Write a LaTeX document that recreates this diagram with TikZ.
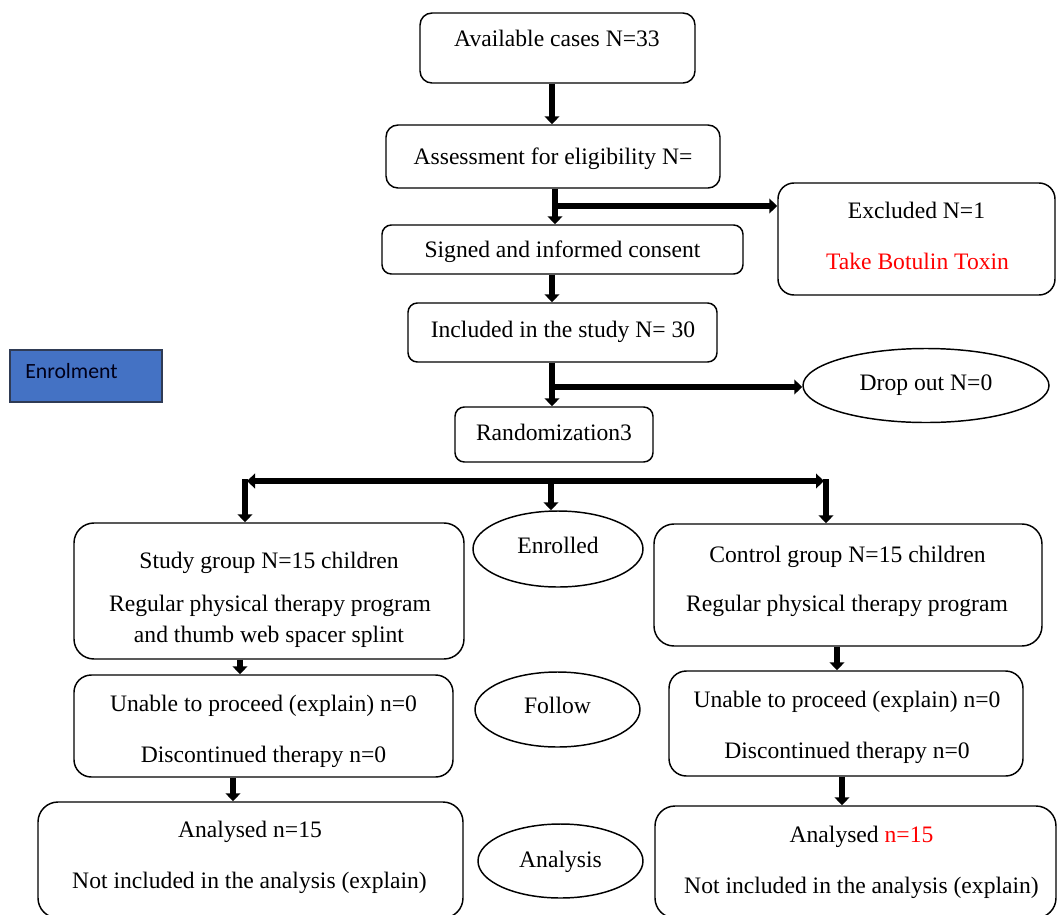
\documentclass[tikz,border=0pt]{standalone}
\usepackage{fontspec}
\setmainfont{Liberation Serif}
\newfontfamily\calibfont{Carlito}
\usetikzlibrary{arrows.meta,shapes.geometric}
\definecolor{enrblue}{HTML}{4472C4}
\definecolor{enrline}{HTML}{2F3B55}
\definecolor{txtred}{HTML}{FF0000}
\begin{document}
\begin{tikzpicture}[x=0.75pt,y=-0.75pt,
  sz/.style 2 args={minimum width=#1*0.75pt, minimum height=#2*0.75pt},
  rbox/.style={draw, line width=1.1pt, rounded corners=#1, inner sep=0pt},
  rbox/.default=9pt,
  ell/.style={draw, ellipse, line width=1.1pt, inner sep=0pt},
  txt/.style={anchor=base, inner sep=0pt, font=\fontsize{17.7}{21}\selectfont},
  arr/.style={line width=4pt, -{Triangle[width=11pt,length=6pt]}}]
\clip (0,0) rectangle (1058,915);

% boxes
\node[rbox, sz={275}{70}] (avail) at (557.5,48) {};
\node[rbox, sz={334}{63}] (assess) at (553,156.5) {};
\node[rbox=12pt, sz={277}{112}] (excl) at (916.5,239) {};
\node[rbox=7pt, sz={361}{49}] (signed) at (562.5,249.5) {};
\node[rbox=7pt, sz={309}{59}] (incl) at (562.5,332.5) {};
\node[ell, sz={246}{74}] (drop) at (926,385.5) {};
\node[rbox=7pt, sz={198}{55}] (rand) at (554,434.5) {};
\node[draw=enrline, fill=enrblue, line width=1pt, inner sep=0pt, sz={152}{52}] (enrol) at (86,376) {};

\node[rbox=15pt, sz={390}{136}] (study) at (269,591) {};
\node[ell, sz={170}{76}] (enr) at (558,549) {};
\node[rbox=15pt, sz={388}{122}] (control) at (848,585) {};

\node[rbox=13pt, sz={379}{102}] (unabL) at (263.5,726) {};
\node[ell, sz={165}{75}] (follow) at (557.5,709.5) {};
\node[rbox=13pt, sz={354}{105}] (unabR) at (846,723.5) {};

\node[rbox=15pt, sz={425}{116}] (analL) at (250.5,860) {};
\node[ell, sz={165}{74}] (analysis) at (560.5,861) {};
\node[rbox=15pt, sz={401}{112}] (analR) at (855.5,862) {};

% texts
\node[txt] (t1) at (557,46) {Available cases N=33};
\node[txt] (t2) at (553,164) {Assessment for eligibility N=};
\node[txt] (t3) at (916.5,218) {Excluded N=1};
\node[txt, text=txtred] (t4) at (917.5,269) {Take Botulin Toxin};
\node[txt] (t5) at (562.5,257) {Signed and informed consent};
\node[txt] (t6) at (563,337) {Included in the study N= 30};
\node[txt] (t7) at (926,390) {Drop out N=0};
\node[txt] (t8) at (554,440) {Randomization3};
\node[anchor=base west, inner sep=0pt, font=\calibfont\fontsize{16.3}{19}\selectfont, text=black!90!blue] (t9) at (25,378) {Enrolment};

\node[txt] (t10) at (269,568) {Study group N=15 children};
\node[txt] (t11) at (270,611) {Regular physical therapy program};
\node[txt] (t12) at (269,642) {and thumb web spacer splint};
\node[txt] (t13) at (558,553) {Enrolled};
\node[txt] (t14) at (847.5,562) {Control group N=15 children};
\node[txt] (t15) at (847,611) {Regular physical therapy program};

\node[txt] (t16) at (263.5,711) {Unable to proceed (explain) n=0};
\node[txt] (t17) at (263.5,762) {Discontinued therapy n=0};
\node[txt] (t18) at (557.5,713) {Follow};
\node[txt] (t19) at (847,707) {Unable to proceed (explain) n=0};
\node[txt] (t20) at (847,758) {Discontinued therapy n=0};

\node[txt] (t21) at (250,837) {Analysed n=15};
\node[txt] (t22) at (249.5,888) {Not included in the analysis (explain)};
\node[txt] (t23) at (560.5,867) {Analysis};
\node[txt] (t24) at (861.5,842) {Analysed \textcolor{txtred}{n=15}};
\node[txt] (t25) at (861.5,893) {Not included in the analysis (explain)};

% connector coordinates
\coordinate (xa) at (552,0);
\coordinate (xb) at (555,0);
\coordinate (yb) at (0,206);
\coordinate (yc) at (0,387);
\coordinate (ybar) at (0,481);
\coordinate (ybt) at (0,479);
\coordinate (xm) at (551,0);
\coordinate (xl) at (245,0);
\coordinate (xr) at (826,0);
\coordinate (xs) at (240,0);
\coordinate (xu) at (233,0);
\coordinate (xc) at (837,0);
\coordinate (xd) at (842,0);

% connectors
\draw[arr] (avail.south -| xa) -- (assess.north -| xa);
\draw[arr] (assess.south -| xb) -- (signed.north -| xb);
\draw[arr] (yb -| xb) -- (yb -| excl.west);
\draw[arr] (signed.south -| xa) -- (incl.north -| xa);
\draw[arr] (incl.south -| xa) -- (rand.north -| xa);
\draw[arr] (yc -| xa) -- (yc -| drop.west);

\draw[arr] (ybar -| xm) -- ([xshift=1.5pt]ybar -| xl);
\draw[arr] (ybar -| xm) -- ([xshift=-1.5pt]ybar -| xr);
\draw[arr] (ybt -| xl) -- (study.north -| xl);
\draw[arr] (ybar -| xm) -- (enr.north -| xm);
\draw[arr] (ybt -| xr) -- (control.north -| xr);

\draw[arr] (study.south -| xs) -- (unabL.north -| xs);
\draw[arr] (unabL.south -| xu) -- (analL.north -| xu);
\draw[arr] (control.south -| xc) -- (unabR.north -| xc);
\draw[arr] (unabR.south -| xd) -- (analR.north -| xd);
\end{tikzpicture}
\end{document}
